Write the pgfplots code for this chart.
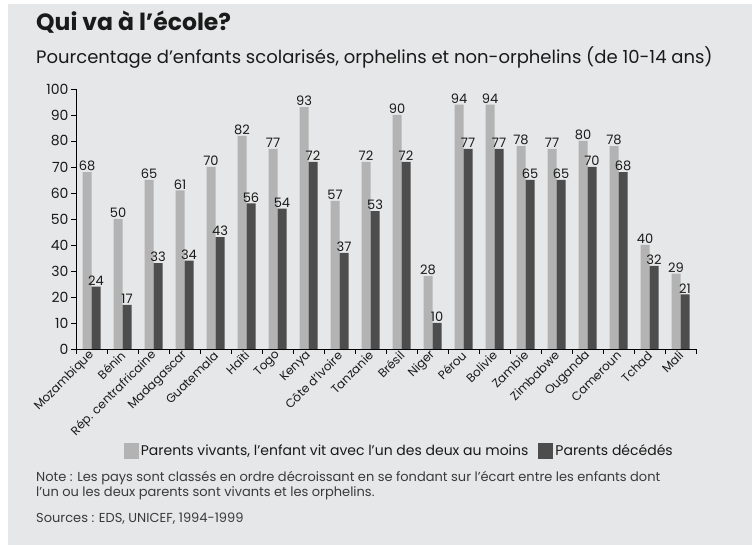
\documentclass[border=0pt]{standalone}
\usepackage{fontspec}
\setmainfont{Poppins}
\usepackage{pgfplots}
\pgfplotsset{compat=1.18}
\definecolor{bg}{HTML}{E6E7E8}
\definecolor{lightbar}{HTML}{B3B3B3}
\definecolor{darkbar}{HTML}{4D4D4D}
\definecolor{txt}{HTML}{1A1A1A}
\definecolor{notetxt}{HTML}{3A3A3A}
\begin{document}
\begin{tikzpicture}[x=1pt,y=1pt]
\path[use as bounding box] (0,0) rectangle (752,545);
\fill[bg] (8,0) rectangle (752,541);
\node[anchor=base west, inner sep=0pt, text=txt, font=\bfseries\fontsize{23.5}{27}\selectfont] at (36,514) {Qui va à l’école?};
\node[anchor=base west, inner sep=0pt, text=txt, font=\fontsize{18}{21}\selectfont] at (36,481) {Pourcentage d’enfants scolarisés, orphelins et non-orphelins (de 10-14 ans)};
\begin{axis}[
  at={(76pt,196pt)}, anchor=south west,
  scale only axis, width=620pt, height=260pt,
  xmin=-0.5, xmax=19.5, ymin=0, ymax=100,
  axis x line*=bottom, axis y line*=left,
  axis line style={black, line width=0.9pt},
  tick align=outside, major tick length=5pt,
  tick style={black, line width=0.8pt},
  ytick={0,10,...,100},
  /pgf/number format/assume math mode=true,
  y tick label style={font=\fontsize{14}{16}\selectfont, text=txt, xshift=1pt},
  xtick={-0.5,0.5,...,19.5}, xticklabels={},
  extra x ticks={0,1,...,19},
  extra x tick labels={Mozambique,Bénin,Rép. centrafricaine,Madagascar,Guatemala,Haïti,Togo,Kenya,Côte d’Ivoire,Tanzanie,Brésil,Niger,Pérou,Bolivie,Zambie,Zimbabwe,Ouganda,Cameroun,Tchad,Mali},
  extra x tick style={tick style={draw=none}, tick label style={rotate=45, anchor=east, font=\fontsize{12}{14}\selectfont, text=txt, inner sep=1pt, xshift=2pt, yshift=0pt}},
  ybar, bar width=9pt,
  nodes near coords,
  every node near coord/.append style={font=\fontsize{13}{15}\selectfont, text=txt, inner sep=1pt},
  legend columns=2,
  legend style={draw=none, fill=none, at={(axis description cs:0.072,-0.392)}, anchor=west,
    font=\fontsize{14}{16}\selectfont, text=txt,
    /tikz/every even column/.append style={column sep=8pt}},
  legend image code/.code={\fill[#1] (0pt,-8pt) rectangle (15pt,7.5pt);},
]
\addplot[fill=lightbar, draw=none, bar shift=-4.5pt] coordinates {
(0,68) (1,50) (2,65) (3,61) (4,70) (5,82) (6,77) (7,93) (8,57) (9,72)
(10,90) (11,28) (12,94) (13,94) (14,78) (15,77) (16,80) (17,78) (18,40) (19,29)};
\addplot[fill=darkbar, draw=none, bar shift=4.5pt] coordinates {
(0,24) (1,17) (2,33) (3,34) (4,43) (5,56) (6,54) (7,72) (8,37) (9,53)
(10,72) (11,10) (12,77) (13,77) (14,65) (15,65) (16,70) (17,68) (18,32) (19,21)};
\legend{{Parents vivants, l’enfant vit avec l’un des deux au moins}, {Parents décédés}}
\end{axis}
\node[anchor=base west, inner sep=0pt, text=notetxt, font=\fontsize{13}{15}\selectfont] at (36,63) {Note : Les pays sont classés en ordre décroissant en se fondant sur l’écart entre les enfants dont};
\node[anchor=base west, inner sep=0pt, text=notetxt, font=\fontsize{13}{15}\selectfont] at (36,48) {l’un ou les deux parents sont vivants et les orphelins.};
\node[anchor=base west, inner sep=0pt, text=notetxt, font=\fontsize{13}{15}\selectfont] at (36,22) {Sources : EDS, UNICEF, 1994-1999};
\end{tikzpicture}
\end{document}
